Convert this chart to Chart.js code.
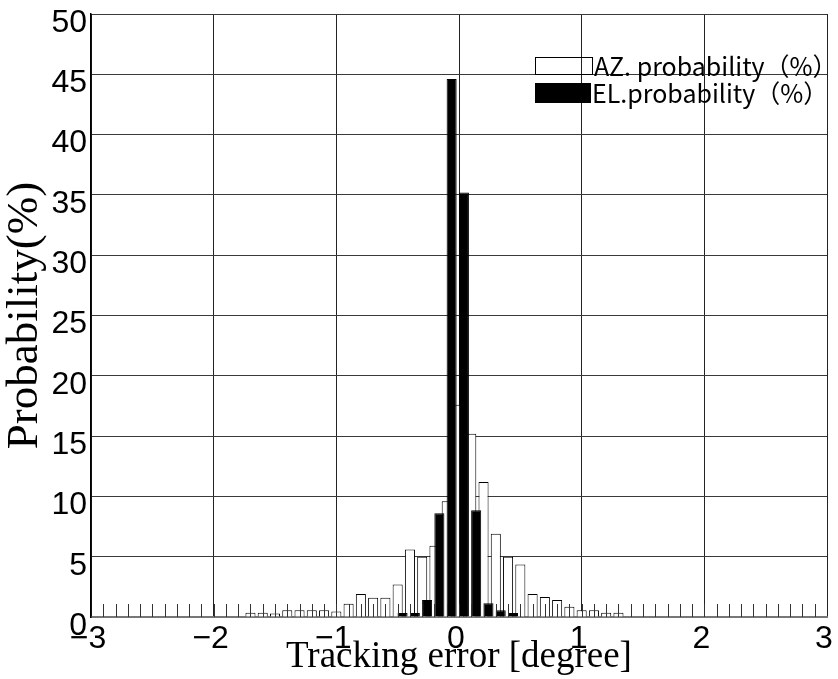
<!DOCTYPE html>
<html>
<head>
<meta charset="utf-8">
<script src="https://cdn.jsdelivr.net/npm/chart.js@4.4.1/dist/chart.umd.min.js"></script>
<style>
  html, body { margin: 0; padding: 0; background: #fff; }
  #wrap { position: relative; width: 838px; height: 679px; }
</style>
</head>
<body>
<div id="wrap"><canvas id="errChart"></canvas></div>
<script>
// histogram bin centres, degree
const bins = [
  -2.9, -2.8, -2.7, -2.6, -2.5, -2.4, -2.3, -2.2, -2.1, -2.0,
  -1.9, -1.8, -1.7, -1.6, -1.5, -1.4, -1.3, -1.2, -1.1, -1.0,
  -0.9, -0.8, -0.7, -0.6, -0.5, -0.4, -0.3, -0.2, -0.1, 0,
  0.1, 0.2, 0.3, 0.4, 0.5, 0.6, 0.7, 0.8, 0.9, 1.0,
  1.1, 1.2, 1.3, 1.4, 1.5, 1.6, 1.7, 1.8, 1.9, 2.0,
  2.1, 2.2, 2.3, 2.4, 2.5, 2.6, 2.7, 2.8, 2.9
];

// AZ probability (%)
const azProb = [
  0, 0, 0, 0, 0, 0, 0, 0, 0, 0,
  0, 0, 0.35, 0.35, 0.3, 0.55, 0.55, 0.55, 0.55, 0.45,
  1.1, 1.9, 1.6, 1.6, 2.7, 5.6, 5.0, 5.9, 9.6, 17.6,
  15.2, 11.2, 6.9, 5.0, 4.35, 1.9, 1.65, 1.4, 0.85, 0.55,
  0.55, 0.35, 0.35, 0, 0, 0, 0, 0, 0, 0,
  0, 0, 0, 0, 0, 0, 0, 0, 0
];

// EL probability (%)
const elProb = [
  0, 0, 0, 0, 0, 0, 0, 0, 0, 0,
  0, 0, 0, 0, 0, 0, 0, 0, 0, 0,
  0, 0, 0, 0, 0.33, 0.33, 1.4, 8.6, 44.6, 35.2,
  8.85, 1.15, 0.55, 0.33, 0, 0, 0, 0, 0, 0,
  0, 0, 0, 0, 0, 0, 0, 0, 0, 0,
  0, 0, 0, 0, 0, 0, 0, 0, 0
];

const azLabel = 'AZ. probability（%）';
const elLabel = 'EL.probability（%）';
const xTitle = 'Tracking error [degree]';
const yTitle = 'Probability(%)';

// small upward marks on the x axis at every bin
const binMarks = {
  id: 'binMarks',
  afterDatasetsDraw(chart) {
    const ctx = chart.ctx;
    const xs = chart.scales.x;
    const y0 = chart.scales.y.getPixelForValue(0);
    ctx.save();
    ctx.strokeStyle = '#333';
    ctx.lineWidth = 1;
    bins.forEach(function (b) {
      const px = Math.round(xs.getPixelForValue(b)) + 0.5;
      ctx.beginPath();
      ctx.moveTo(px, y0);
      ctx.lineTo(px, y0 - 13);
      ctx.stroke();
    });
    ctx.restore();
  }
};

// legend inside the plot, top right
const insideLegend = {
  id: 'insideLegend',
  afterDraw(chart) {
    const ctx = chart.ctx;
    const ds = chart.data.datasets;
    ctx.save();
    ctx.font = '25px "Noto Sans CJK JP"';
    ctx.textBaseline = 'middle';
    ctx.fillStyle = '#000';
    // AZ: outlined box
    ctx.strokeStyle = '#000';
    ctx.lineWidth = 1;
    ctx.strokeRect(535.5, 57.5, 57, 17);
    ctx.fillText(ds[0].label, 594, 66);
    // EL: solid box
    ctx.fillRect(535, 83, 56, 20);
    ctx.fillText(ds[1].label, 592, 93);
    ctx.restore();
  }
};

const ctx = document.getElementById('errChart').getContext('2d');
const errChart = new Chart(ctx, {
  type: 'bar',
  data: {
    datasets: [
      {
        label: azLabel,
        data: bins.map((b, i) => ({ x: b, y: azProb[i] })),
        backgroundColor: '#fff',
        borderColor: '#000',
        borderWidth: 1,
        grouped: false,
        order: 2,
        xAxisID: 'x',
      },
      {
        label: elLabel,
        data: bins.map((b, i) => ({ x: b, y: elProb[i] })),
        backgroundColor: '#000',
        borderColor: '#000',
        borderWidth: 1,
        grouped: false,
        order: 1,
        xAxisID: 'xEl',
      },
    ],
  },
  options: {
    responsive: true,
    maintainAspectRatio: false,
    animation: false,
    categoryPercentage: 1,
    barPercentage: 0.82,
    layout: { padding: { top: 14, right: 11, left: 0, bottom: 0 } },
    plugins: {
      legend: { display: false },
      tooltip: { enabled: false },
    },
    scales: {
      x: {
        type: 'linear',
        min: -3,
        max: 3,
        offset: false,
        afterFit: (s) => {
          s.height = 62;
          s.paddingLeft = 0;
          s.paddingRight = 0;
        },
        ticks: {
          stepSize: 1,
          padding: 3,
          labelOffset: -3,
          color: '#000',
          font: { family: 'Liberation Sans', size: 32 },
          callback: (v) => (v < 0 ? '\u2212' + Math.abs(v) : String(v)),
        },
        grid: { color: '#222', lineWidth: 1, drawTicks: false, offset: false },
        border: { color: '#777', width: 2 },
        title: {
          display: true,
          text: xTitle,
          color: '#000',
          padding: 0,
          font: { family: 'Liberation Serif', size: 37, lineHeight: 1.2 },
        },
      },
      // EL bars sit just right of the AZ bars in each bin
      xEl: {
        type: 'linear',
        min: -3.04,
        max: 2.96,
        offset: false,
        display: false,
      },
      y: {
        min: 0,
        max: 50,
        afterFit: (s) => {
          s.width = 91;
          s.paddingTop = 0;
          s.paddingBottom = 0;
        },
        ticks: {
          stepSize: 5,
          padding: 4,
          labelOffset: 9,
          color: '#000',
          font: { family: 'Liberation Sans', size: 32 },
        },
        grid: { color: '#3a3a3a', lineWidth: 1, drawTicks: false },
        border: { color: '#000', width: 1.5 },
        title: {
          display: true,
          text: yTitle,
          color: '#000',
          padding: 0,
          font: { family: 'Liberation Serif', size: 45, lineHeight: 1.1 },
        },
      },
    },
  },
  plugins: [binMarks, insideLegend],
});
</script>
</body>
</html>
